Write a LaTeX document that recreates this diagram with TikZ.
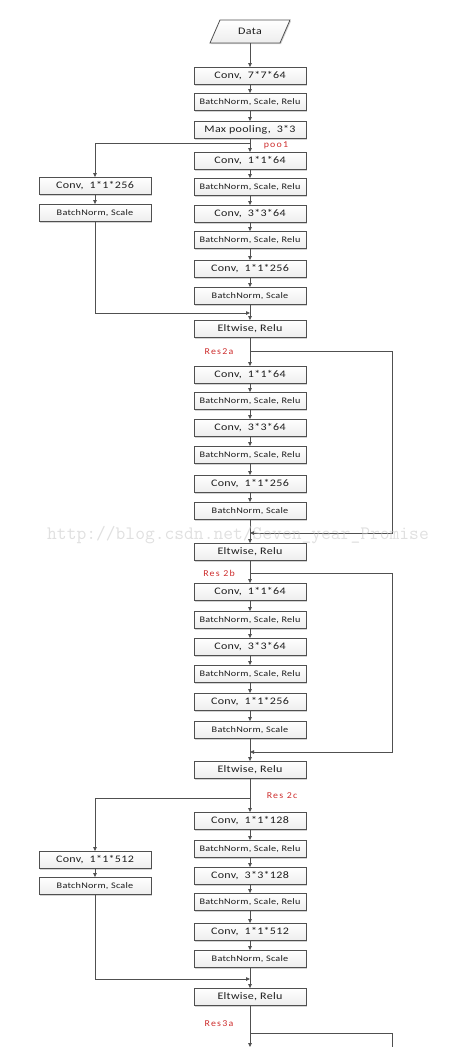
\documentclass[tikz,border=0pt]{standalone}
\usepackage{fontspec}
\newfontfamily\bxf[FakeStretch=1.2,LetterSpace=3]{Carlito}
\newfontfamily\rdf[LetterSpace=14,FakeStretch=1.1]{Carlito}
\usetikzlibrary{arrows.meta,shadows}
\definecolor{ln}{RGB}{80,80,80}
\definecolor{rd}{RGB}{205,45,45}
\definecolor{tx}{RGB}{30,30,30}
\begin{document}
\begin{tikzpicture}[x=1pt,y=-1pt,
 box/.style={draw=ln, line width=0.8pt, top color=white, bottom color=gray!14, minimum width=112pt, minimum height=17pt, inner sep=0pt, text=tx, drop shadow={shadow xshift=1pt, shadow yshift=-1.2pt, opacity=0.35}},
 big/.style={box, font=\bxf\fontsize{10}{11}\selectfont},
 sml/.style={box, font=\bxf\fontsize{8.5}{10}\selectfont},
 arr/.style={draw=ln, line width=0.8pt, -{Triangle[length=4pt,width=3.5pt]}},
 lnk/.style={draw=ln, line width=0.8pt},
 lab/.style={text=rd, font=\rdf\fontsize{9}{10}\selectfont, inner sep=0pt}]
\useasboundingbox (0,0) rectangle (459,1047);
% Data
\draw[draw=ln, line width=0.8pt, top color=white, bottom color=gray!14, drop shadow={shadow xshift=1pt, shadow yshift=-1.2pt, opacity=0.35}] (220,20) -- (290,20) -- (280,43) -- (210,43) -- cycle;
\node[font=\bxf\fontsize{10}{11}\selectfont, text=tx, minimum height=23pt, inner sep=0pt] (d) at (250,31.5) {Data};
% main column
\node[big] (c1) at (250,76) {Conv,~~7*7*64};
\node[sml] (b1) at (250,102) {BatchNorm, Scale, Relu};
\node[big] (mp) at (250,130) {Max pooling,~~3*3};
\node[big] (c2) at (250,161) {Conv,~~1*1*64};
\node[sml] (b2) at (250,187) {BatchNorm, Scale, Relu};
\node[big] (c3) at (250,214) {Conv,~~3*3*64};
\node[sml] (b3) at (250,240) {BatchNorm, Scale, Relu};
\node[big] (c4) at (250,269) {Conv,~~1*1*256};
\node[sml] (b4) at (250,296) {BatchNorm, Scale};
\node[big] (e1) at (250,329) {Eltwise, Relu};
\node[big] (c5) at (250,375) {Conv,~~1*1*64};
\node[sml] (b5) at (250,401) {BatchNorm, Scale, Relu};
\node[big] (c6) at (250,428) {Conv,~~3*3*64};
\node[sml] (b6) at (250,455) {BatchNorm, Scale, Relu};
\node[big] (c7) at (250,484) {Conv,~~1*1*256};
\node[sml] (b7) at (250,511) {BatchNorm, Scale};
\node[big] (e2) at (250,552) {Eltwise, Relu};
\node[big] (c8) at (250,592) {Conv,~~1*1*64};
\node[sml] (b8) at (250,620) {BatchNorm, Scale, Relu};
\node[big] (c9) at (250,647) {Conv,~~3*3*64};
\node[sml] (b9) at (250,674) {BatchNorm, Scale, Relu};
\node[big] (c10) at (250,702) {Conv,~~1*1*256};
\node[sml] (b10) at (250,730) {BatchNorm, Scale};
\node[big] (e3) at (250,770) {Eltwise, Relu};
\node[big] (c11) at (250,821) {Conv,~~1*1*128};
\node[sml] (b11) at (250,849) {BatchNorm, Scale, Relu};
\node[big] (c12) at (250,876) {Conv,~~3*3*128};
\node[sml] (b12) at (250,902) {BatchNorm, Scale, Relu};
\node[big] (c13) at (250,932) {Conv,~~1*1*512};
\node[sml] (b13) at (250,959) {BatchNorm, Scale};
\node[big] (e4) at (250,997) {Eltwise, Relu};
% left column
\node[big] (L1) at (95,186) {Conv,~~1*1*256};
\node[sml] (L2) at (95,213) {BatchNorm, Scale};
\node[big] (L3) at (95,860) {Conv,~~1*1*512};
\node[sml] (L4) at (95,886) {BatchNorm, Scale};
% labels
\node[lab] (lp) at (276,145) {poo1};
\node[lab] (l2a) at (219,352) {Res2a};
\node[lab] (l2b) at (219,573) {Res 2b};
\node[lab] (l2c) at (282,796) {Res 2c};
\node[lab] (l3a) at (219,1024) {Res3a};
% coordinates
\coordinate (p1) at (250,143);
\coordinate (q1) at (250,313);
\coordinate (r1) at (250,351);
\coordinate (r1e) at (250,533);
\coordinate (r2) at (250,573);
\coordinate (r2e) at (250,752);
\coordinate (p2) at (250,798);
\coordinate (q2) at (250,979);
\coordinate (r3) at (250,1033);
\coordinate (endm) at (250,1047);
\coordinate (endr) at (392,1047);
% main arrows
\foreach \a/\b in {d/c1,c1/b1,b1/mp,mp/c2,c2/b2,b2/c3,c3/b3,b3/c4,c4/b4,b4/e1,
  e1/c5,c5/b5,b5/c6,c6/b6,b6/c7,c7/b7,b7/e2,
  e2/c8,c8/b8,b8/c9,c9/b9,b9/c10,c10/b10,b10/e3,
  e3/c11,c11/b11,b11/c12,c12/b12,b12/c13,c13/b13,b13/e4,
  L1/L2,L3/L4}
  \draw[arr] (\a) -- (\b);
\draw[arr] (e4) -- (endm);
% projection shortcuts
\draw[arr] (p1) -| (L1.north);
\draw[arr] (L2.south) |- (q1);
\draw[arr] (p2) -| (L3.north);
\draw[arr] (L4.south) |- (q2);
% identity shortcuts
\draw[arr] (r1) -- ++(142,0) |- (r1e);
\draw[arr] (r2) -- ++(142,0) |- (r2e);
\draw[lnk] (r3) -| (endr);
% watermark
\node[font=\ttfamily\fontsize{19}{20}\selectfont, text=gray!45, opacity=0.55, inner sep=0pt] (wm) at (238,535) {http://blog.csdn.net/Seven\_year\_Promise};
\end{tikzpicture}
\end{document}
